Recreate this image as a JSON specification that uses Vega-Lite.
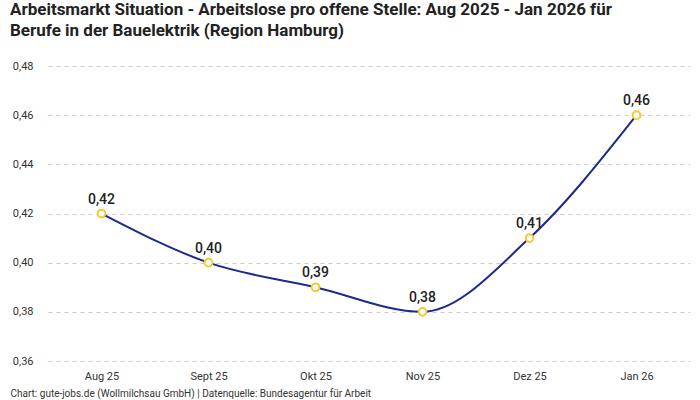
{
  "$schema": "https://vega.github.io/schema/vega-lite/v6.json",
  "autosize": "none",
  "width": 642,
  "height": 295,
  "padding": {"left": 48, "top": 66, "right": 10, "bottom": 39},
  "background": "white",
  "title": {
    "text": ["Arbeitsmarkt Situation - Arbeitslose pro offene Stelle: Aug 2025 - Jan 2026 für", "Berufe in der Bauelektrik (Region Hamburg)"],
    "anchor": "start",
    "frame": "bounds",
    "font": "Roboto",
    "fontSize": 17,
    "fontWeight": "bold",
    "color": "#222222",
    "lineHeight": 21,
    "offset": 20
  },
  "data": {
    "values": [
      {"monat": "Aug 25", "wert": 0.42},
      {"monat": "Sept 25", "wert": 0.40},
      {"monat": "Okt 25", "wert": 0.39},
      {"monat": "Nov 25", "wert": 0.38},
      {"monat": "Dez 25", "wert": 0.41},
      {"monat": "Jan 26", "wert": 0.46}
    ]
  },
  "encoding": {
    "x": {
      "field": "monat",
      "type": "ordinal",
      "sort": null,
      "scale": {"type": "point", "padding": 0.5},
      "axis": {
        "title": "Chart: gute-jobs.de (Wollmilchsau GmbH) | Datenquelle: Bundesagentur für Arbeit",
        "titleAnchor": "start",
        "titleX": -38,
        "titleY": 32,
        "titleBaseline": "middle",
        "titleFont": "Roboto",
        "titleFontSize": 10,
        "titleFontWeight": "normal",
        "titleColor": "#333333",
        "labelAngle": 0,
        "labelFont": "Roboto",
        "labelFontSize": 11,
        "labelColor": "#333333",
        "labelPadding": 9,
        "ticks": false,
        "tickSize": 0,
        "domain": false,
        "grid": false
      }
    },
    "y": {
      "field": "wert",
      "type": "quantitative",
      "scale": {"domain": [0.36, 0.48], "nice": false, "zero": false},
      "axis": {
        "title": null,
        "values": [0.36, 0.38, 0.4, 0.42, 0.44, 0.46, 0.48],
        "format": ".2f",
        "labelFont": "Roboto",
        "labelFontSize": 11,
        "labelColor": "#333333",
        "labelPadding": 15,
        "ticks": false,
        "tickSize": 0,
        "domain": false,
        "grid": true,
        "gridColor": "#cccccc",
        "gridDash": [4, 4],
        "gridWidth": 1
      }
    }
  },
  "layer": [
    {
      "mark": {"type": "line", "interpolate": "monotone", "color": "#1b2a8c", "strokeWidth": 2}
    },
    {
      "mark": {"type": "point", "shape": "circle", "filled": true, "fill": "white", "stroke": "#f9c62b", "strokeWidth": 2, "size": 60, "opacity": 1}
    },
    {
      "mark": {"type": "text", "baseline": "bottom", "dy": -7, "font": "Roboto", "fontSize": 14, "fontWeight": 500, "color": "#222222"},
      "encoding": {
        "text": {"field": "wert", "type": "quantitative", "format": ".2f"}
      }
    }
  ],
  "config": {
    "view": {"stroke": null},
    "locale": {
      "number": {"decimal": ",", "thousands": ".", "grouping": [3], "currency": ["", " €"]}
    }
  }
}
